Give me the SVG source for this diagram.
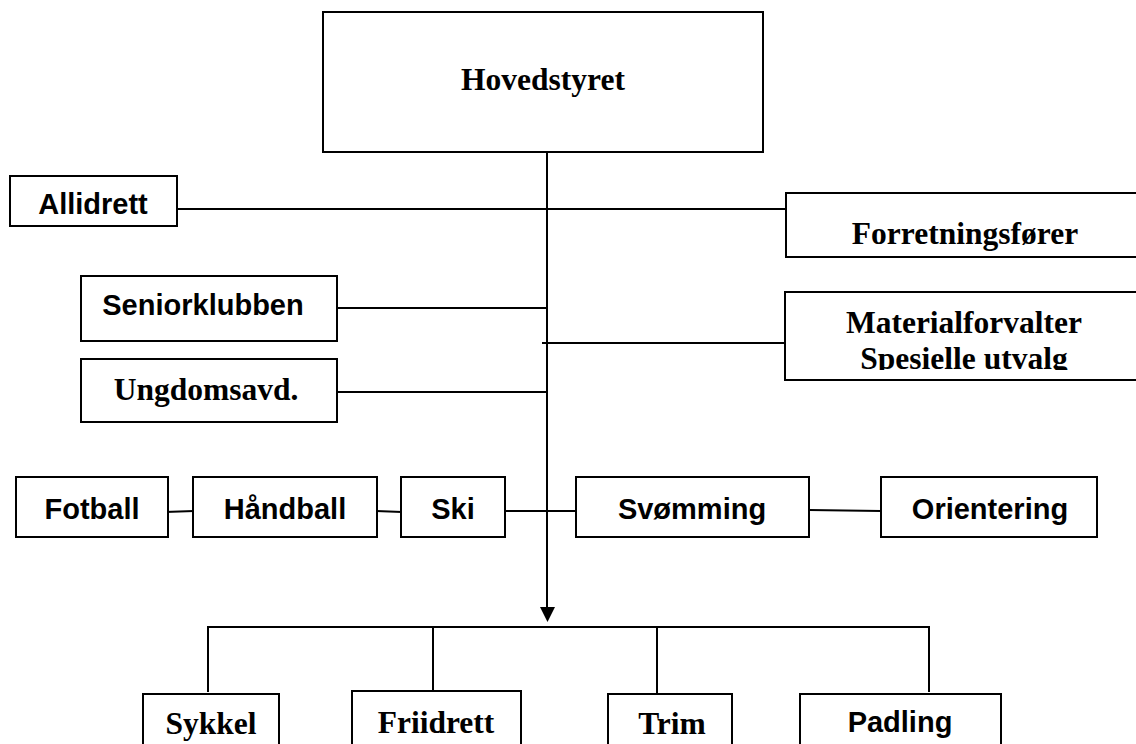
<svg xmlns="http://www.w3.org/2000/svg" width="1136" height="744" viewBox="0 0 1136 744">
<style>
.box{fill:#fff;stroke:#000;stroke-width:2}
.ln{fill:none;stroke:#000;stroke-width:2}
.ser{font-family:"Liberation Serif","Times New Roman",serif;font-weight:bold;font-size:31.5px;fill:#000;text-anchor:middle}
.san{font-family:"Liberation Sans",Arial,sans-serif;font-weight:bold;font-size:29px;fill:#000;text-anchor:middle}
</style>
<defs>
<clipPath id="clipMat"><rect x="780" y="290" width="360" height="80"/></clipPath>
</defs>
<rect width="1136" height="744" fill="#fff"/>
<g id="connectors">
<line class="ln" x1="547" y1="152" x2="547" y2="608"/>
<polygon points="540,607 555,607 547.5,622" fill="#000"/>
<line class="ln" x1="177" y1="209" x2="786" y2="209"/>
<line class="ln" x1="337" y1="308" x2="547" y2="308"/>
<line class="ln" x1="542" y1="343" x2="785" y2="343"/>
<line class="ln" x1="337" y1="392" x2="547" y2="392"/>
<line class="ln" x1="165" y1="512" x2="194" y2="511"/>
<line class="ln" x1="376" y1="511" x2="402" y2="512"/>
<line class="ln" x1="505" y1="511" x2="577" y2="511"/>
<line class="ln" x1="809" y1="510" x2="881" y2="511"/>
<polyline class="ln" points="208,692 208,627 929,627 929,692"/>
<line class="ln" x1="433" y1="627" x2="433" y2="691"/>
<line class="ln" x1="657" y1="627" x2="657" y2="694"/>
</g>
<g id="hovedstyret"><rect class="box" x="323" y="12" width="440" height="140"/><text class="ser" x="543" y="90">Hovedstyret</text></g>
<g id="allidrett"><rect class="box" x="10" y="176" width="167" height="50"/><text class="san" x="93" y="214">Allidrett</text></g>
<g id="forretningsforer"><rect class="box" x="786" y="193" width="360" height="64"/><text class="ser" x="965" y="244">Forretningsfører</text></g>
<g id="seniorklubben"><rect class="box" x="81" y="276" width="256" height="65"/><text class="san" x="203" y="315">Seniorklubben</text></g>
<g id="materialforvalter"><rect class="box" x="785" y="292" width="360" height="88"/><text class="ser" x="964" y="333">Materialforvalter</text><text class="ser" x="964" y="369" clip-path="url(#clipMat)">Spesielle utvalg</text></g>
<g id="ungdomsavd"><rect class="box" x="81" y="359" width="256" height="63"/><text class="ser" x="206" y="400">Ungdomsavd.</text></g>
<g id="fotball"><rect class="box" x="16" y="477" width="152" height="60"/><text class="san" x="92" y="519">Fotball</text></g>
<g id="handball"><rect class="box" x="193" y="477" width="184" height="60"/><text class="san" x="285" y="519">Håndball</text></g>
<g id="ski"><rect class="box" x="401" y="477" width="104" height="60"/><text class="san" x="453" y="519">Ski</text></g>
<g id="svomming"><rect class="box" x="576" y="477" width="233" height="60"/><text class="san" x="692" y="519">Svømming</text></g>
<g id="orientering"><rect class="box" x="881" y="477" width="216" height="60"/><text class="san" x="990" y="519">Orientering</text></g>
<g id="sykkel"><rect class="box" x="143" y="694" width="136" height="70"/><text class="ser" x="211" y="734">Sykkel</text></g>
<g id="friidrett"><rect class="box" x="352" y="691" width="169" height="70"/><text class="ser" x="436" y="733">Friidrett</text></g>
<g id="trim"><rect class="box" x="608" y="694" width="124" height="70"/><text class="ser" x="672" y="734">Trim</text></g>
<g id="padling"><rect class="box" x="800" y="694" width="201" height="70"/><text class="san" x="900" y="732">Padling</text></g>
</svg>
